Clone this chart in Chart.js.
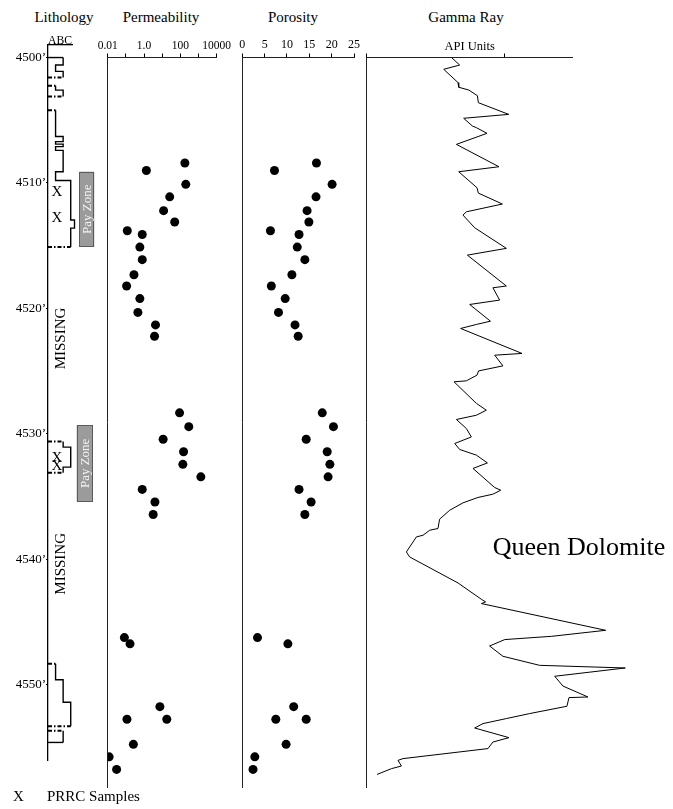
<!DOCTYPE html>
<html>
<head>
<meta charset="utf-8">
<title>Well log</title>
<script src="https://cdn.jsdelivr.net/npm/chart.js@4.4.1/dist/chart.umd.min.js"></script>
<style>
  html, body { margin: 0; padding: 0; background: #fff; }
  #log { position: relative; width: 673px; height: 809px; overflow: hidden;
         font-family: "Liberation Serif", "Times New Roman", serif; color: #000; }
  #log canvas { position: absolute; top: 0; }
  .head { position: absolute; top: 9px; width: 120px; font-size: 15px; line-height: 17px; text-align: center; }
  .legend { position: absolute; top: 788px; font-size: 15px; line-height: 17px; }
</style>
</head>
<body>
<div id="log">
  <div class="head" style="left:4px">Lithology</div>
  <div class="head" style="left:101px">Permeability</div>
  <div class="head" style="left:233px">Porosity</div>
  <div class="head" style="left:406px">Gamma Ray</div>
  <canvas id="lithChart" width="110" height="809" style="left:0"></canvas>
  <canvas id="permChart" width="142" height="809" style="left:90px"></canvas>
  <canvas id="porChart" width="130" height="809" style="left:234px"></canvas>
  <canvas id="grChart" width="315" height="809" style="left:358px"></canvas>
  <div class="legend" style="left:13px">X</div>
  <div class="legend" style="left:47px">PRRC Samples</div>
</div>
<script>
// depth ticks (feet)
const depthTicks = [4500, 4510, 4520, 4530, 4540, 4550];

// lithology intervals: code 1 = A, 2 = B, 3 = C
const lithTop  = [4500.0, 4500.6, 4501.1, 4502.25, 4502.6, 4504.2, 4506.3, 4506.7, 4506.9, 4507.1, 4507.4, 4509.1, 4509.8, 4512.95, 4513.6, 4530.6, 4531.06, 4532.65, 4548.33, 4549.6, 4551.4, 4553.67];
const lithBase = [4500.6, 4501.1, 4501.6, 4502.6, 4503.1, 4506.3, 4506.7, 4506.9, 4507.1, 4507.4, 4509.1, 4509.8, 4512.95, 4513.6, 4515.1, 4531.06, 4532.65, 4533.1, 4549.6, 4551.4, 4553.3, 4554.6];
const lithCode = [2, 1, 2, 1, 2, 1, 2, 1, 2, 1, 2, 1, 3, 3.5, 3, 2, 3, 2, 1, 2, 3, 2];
const solidContacts = [4500.0, 4554.6];

const payTop  = [4509.1, 4529.3];
const payBase = [4515.1, 4535.4];
const prrcDepth = [4510.72, 4512.79, 4531.9, 4532.6];
const missingDepth = [4522.4, 4540.36];

// core plugs
const sampleDepth = [4508.4, 4509.0, 4510.1, 4511.1, 4512.2, 4513.1, 4513.8, 4514.1, 4515.1, 4516.1, 4517.3, 4518.2,
  4519.2, 4520.3, 4521.3, 4522.2, 4528.3, 4529.4, 4530.4, 4531.4, 4532.4, 4533.4, 4534.4, 4535.4, 4536.4,
  4546.2, 4546.7, 4551.7, 4552.7, 4552.7, 4554.7, 4555.7, 4556.7];
const permeability = [178, 1.35, 200, 26, 12, 49, 0.12, 0.8, 0.59, 0.8, 0.28, 0.11,
  0.59, 0.46, 4.3, 3.8, 91, 293, 11.3, 151, 138, 1350, 0.8, 4.0, 3.2,
  0.083, 0.17, 7.5, 18, 0.115, 0.26, 0.012, 0.031];
const porosity = [16.6, 7.2, 20.1, 16.5, 14.5, 14.9, 6.3, 12.7, 12.3, 14.0, 11.1, 6.5,
  9.6, 8.1, 11.8, 12.5, 17.9, 20.4, 14.3, 19.0, 19.6, 19.2, 12.7, 15.4, 14.0,
  3.4, 10.2, 11.5, 14.3, 7.5, 9.8, 2.8, 2.4];

const permTicks  = [0.01, 0.1, 1, 10, 100, 1000, 10000];
const permLabels = ['0.01', '', '1.0', '', '100', '', '10000'];
const porTicks = [0, 5, 10, 15, 20, 25];
const grTicks = [0, 100];

// gamma ray curve
const grDepth = [4500.00, 4500.60, 4500.94, 4502.00, 4502.37, 4502.59, 4503.04, 4503.60, 4504.53, 4504.84,
  4505.46, 4505.59, 4506.04, 4506.92, 4508.70, 4509.10, 4510.37, 4510.80, 4511.67, 4512.29,
  4512.55, 4513.56, 4515.20, 4515.74, 4518.20, 4518.34, 4519.32, 4519.67, 4521.00, 4521.26,
  4521.58, 4523.57, 4523.71, 4524.56, 4524.96, 4525.30, 4525.75, 4525.83, 4527.55, 4528.09,
  4528.49, 4528.83, 4529.55, 4530.22, 4530.74, 4531.22, 4531.67, 4532.29, 4532.73, 4534.25,
  4534.46, 4534.78, 4535.04, 4535.47, 4536.06, 4536.77, 4537.51, 4537.65, 4538.05, 4538.18,
  4539.38, 4539.78, 4541.85, 4543.15, 4543.36, 4543.49, 4545.62, 4546.10, 4546.20, 4546.36,
  4546.87, 4547.69, 4548.41, 4548.62, 4549.28, 4550.06, 4550.93, 4550.98, 4551.67, 4552.25,
  4552.65, 4553.05, 4553.40, 4554.17, 4554.52, 4555.04, 4555.84, 4555.98, 4556.43, 4556.64, 4557.10];
const grApi = [61.7, 67.7, 56.1, 66.5, 67.0, 74.3, 80.6, 81.3, 103.4, 70.6,
  77.0, 79.9, 87.6, 65.3, 96.3, 67.0, 80.3, 81.3, 98.8, 72.6,
  70.1, 78.6, 101.7, 73.3, 101.7, 91.9, 96.8, 75.0, 90.1, 79.9,
  68.4, 113.1, 93.2, 99.2, 81.5, 80.3, 72.6, 63.6, 79.9, 87.1,
  79.9, 65.3, 72.6, 76.2, 64.1, 67.7, 79.9, 87.9, 77.4, 93.2,
  97.6, 91.9, 81.0, 70.1, 60.4, 53.1, 51.9, 45.9, 41.0, 36.2,
  28.9, 31.3, 66.5, 83.5, 86.6, 83.5, 174.0, 134.5, 121.1, 100.5,
  89.5, 99.2, 125.9, 188.3, 136.9, 142.9, 161.1, 147.3, 145.8, 118.7,
  101.7, 84.7, 78.6, 103.6, 91.9, 88.3, 26.4, 22.8, 25.3, 18.0, 7.5];

const serif = '"Liberation Serif", "Times New Roman", serif';
Chart.defaults.font.family = serif;
Chart.defaults.color = '#000';

// pin axis boxes so every track lines up on the same depth scale
function fixed(size) {
  return scale => {
    if (scale.isHorizontal()) scale.height = size; else scale.width = size;
  };
}

function baseOptions(padding, scales, plugins) {
  return {
    responsive: false,
    animation: false,
    events: [],
    layout: { autoPadding: false, padding },
    plugins: Object.assign({ legend: { display: false }, tooltip: { enabled: false } }, plugins || {}),
    scales
  };
}

function depthAxis(min, max, width) {
  return {
    type: 'linear', position: 'left', reverse: true, min, max,
    afterFit: fixed(width),
    grid: { display: false },
    ticks: { display: false },
    border: { color: '#222', width: 1 }
  };
}

function topAxis(extra) {
  return Object.assign({
    position: 'top',
    afterFit: fixed(57.5),
    grid: { display: true, drawOnChartArea: false, drawTicks: true, tickLength: 4, color: '#000' },
    border: { color: '#222', width: 1 },
    ticks: { autoSkip: false, maxRotation: 0, padding: 1, font: { size: 11.5 } }
  }, extra);
}

// ---- lithology track ----
const lithDatasets = [];
let runStart = 0;
let runPts = [];
lithTop.forEach((top, i) => {
  runPts.push({ x: lithCode[i], y: top }, { x: lithCode[i], y: lithBase[i] });
  const endOfRun = i === lithTop.length - 1 || lithBase[i] !== lithTop[i + 1];
  if (!endOfRun) return;
  lithDatasets.push({ data: runPts, borderWidth: 1.4 });
  [[lithTop[runStart], lithCode[runStart]], [lithBase[i], lithCode[i]]].forEach(([d, c]) => {
    const solid = solidContacts.includes(d);
    lithDatasets.push({
      data: [{ x: 0, y: d }, { x: c, y: d }],
      borderWidth: solid ? 1.4 : 2,
      borderDash: solid ? [] : [4, 2, 1.5, 2]
    });
  });
  runStart = i + 1;
  runPts = [];
});
lithDatasets.forEach(ds => Object.assign(ds, {
  showLine: true, pointRadius: 0, borderColor: '#000', clip: false
}));

const lithologyMarks = {
  id: 'lithologyMarks',
  afterDatasetsDraw(chart, args, opts) {
    const { ctx, scales: { x, y } } = chart;
    ctx.save();
    payTop.forEach((top, i) => {
      const [c0, c1] = opts.payColumns[i];
      const l = x.getPixelForValue(c0), r = x.getPixelForValue(c1);
      const t = y.getPixelForValue(top), b = y.getPixelForValue(payBase[i]);
      ctx.fillStyle = '#9b9b9b';
      ctx.fillRect(l, t, r - l, b - t);
      ctx.strokeStyle = '#5a5a5a';
      ctx.lineWidth = 1;
      ctx.strokeRect(Math.round(l) + 0.5, Math.round(t) + 0.5, Math.round(r - l) - 1, Math.round(b - t) - 1);
      ctx.save();
      ctx.translate((l + r) / 2, (t + b) / 2);
      ctx.rotate(-Math.PI / 2);
      ctx.fillStyle = '#f4f4f4';
      ctx.font = '13px ' + serif;
      ctx.textAlign = 'center';
      ctx.textBaseline = 'middle';
      ctx.fillText('Pay Zone', 0, 1);
      ctx.restore();
    });
    ctx.fillStyle = '#000';
    ctx.textAlign = 'center';
    ctx.textBaseline = 'middle';
    ctx.font = '15px ' + serif;
    prrcDepth.forEach(d => ctx.fillText('X', x.getPixelForValue(opts.markColumn), y.getPixelForValue(d)));
    missingDepth.forEach(d => {
      ctx.save();
      ctx.translate(x.getPixelForValue(opts.missingColumn), y.getPixelForValue(d));
      ctx.rotate(-Math.PI / 2);
      ctx.fillText('MISSING', 0, 0);
      ctx.restore();
    });
    ctx.restore();
  }
};

new Chart(document.getElementById('lithChart'), {
  type: 'scatter',
  data: { datasets: lithDatasets },
  plugins: [lithologyMarks],
  options: baseOptions({ left: 0, top: 0, right: 38, bottom: 49 }, {
    x: {
      type: 'linear', position: 'top', min: 0, max: 3.17,
      afterFit: fixed(45),
      grid: { display: false },
      ticks: { display: false },
      border: { color: '#000', width: 1.3 },
      title: { display: true, text: 'ABC', font: { size: 12 }, padding: { top: 34, bottom: 0 } }
    },
    y: {
      type: 'linear', position: 'left', reverse: true, min: 4499, max: 4556,
      afterFit: fixed(48),
      afterBuildTicks: scale => { scale.ticks = depthTicks.map(v => ({ value: v })); },
      grid: { display: true, drawOnChartArea: false, drawTicks: true, tickLength: 2, color: '#000' },
      border: { color: '#000', width: 1.3 },
      ticks: { padding: 0, font: { size: 13 }, callback: v => v + '\u2019' }
    }
  }, {
    lithologyMarks: { payColumns: [[4.13, 6.11], [3.79, 5.85]], markColumn: 1.19, missingColumn: 1.72 }
  })
});

// ---- permeability track ----
new Chart(document.getElementById('permChart'), {
  type: 'scatter',
  data: {
    datasets: [{
      data: sampleDepth.map((d, i) => ({ x: permeability[i], y: d })),
      pointRadius: 4.5, backgroundColor: '#000', borderWidth: 0
    }]
  },
  options: baseOptions({ left: 0, top: 0, right: 13.7, bottom: 22 }, {
    x: topAxis({
      type: 'logarithmic', min: 0.01, max: 10000,
      afterBuildTicks: scale => { scale.ticks = permTicks.map(v => ({ value: v })); },
      ticks: { autoSkip: false, maxRotation: 0, padding: 1, font: { size: 11.5 },
               callback: v => permLabels[permTicks.indexOf(v)] }
    }),
    y: depthAxis(4500, 4558.1, 17.7)
  })
});

// ---- porosity track ----
new Chart(document.getElementById('porChart'), {
  type: 'scatter',
  data: {
    datasets: [{
      data: sampleDepth.map((d, i) => ({ x: porosity[i], y: d })),
      pointRadius: 4.5, backgroundColor: '#000', borderWidth: 0
    }]
  },
  options: baseOptions({ left: 0, top: 0, right: 10, bottom: 22 }, {
    x: topAxis({
      type: 'linear', min: 0, max: 25,
      afterBuildTicks: scale => { scale.ticks = porTicks.map(v => ({ value: v })); },
      ticks: { autoSkip: false, maxRotation: 0, padding: 1, font: { size: 12 } }
    }),
    y: depthAxis(4500, 4558.1, 8.3)
  })
});

// ---- gamma ray track ----
const formationLabel = {
  id: 'formationLabel',
  afterDatasetsDraw(chart, args, opts) {
    const { ctx, scales: { x, y } } = chart;
    ctx.save();
    ctx.fillStyle = '#000';
    ctx.font = '26px ' + serif;
    ctx.textAlign = 'left';
    ctx.textBaseline = 'alphabetic';
    ctx.fillText(opts.text, x.getPixelForValue(opts.api), y.getPixelForValue(opts.depth));
    ctx.restore();
  }
};

new Chart(document.getElementById('grChart'), {
  type: 'scatter',
  data: {
    datasets: [{
      data: grDepth.map((d, i) => ({ x: grApi[i], y: d })),
      showLine: true, pointRadius: 0, borderColor: '#000', borderWidth: 1, clip: false
    }]
  },
  plugins: [formationLabel],
  options: baseOptions({ left: 0, top: 0, right: 100.3, bottom: 22 }, {
    x: topAxis({
      type: 'linear', min: 0, max: 150,
      afterBuildTicks: scale => { scale.ticks = grTicks.map(v => ({ value: v })); },
      ticks: { autoSkip: false, maxRotation: 0, padding: 1, callback: () => '' },
      title: { display: true, text: 'API Units', font: { size: 12.5 }, padding: { top: 39, bottom: 0 } }
    }),
    y: depthAxis(4500, 4558.1, 8.7)
  }, {
    formationLabel: { text: 'Queen Dolomite', api: 91.7, depth: 4539.6 }
  })
});
</script>
</body>
</html>
